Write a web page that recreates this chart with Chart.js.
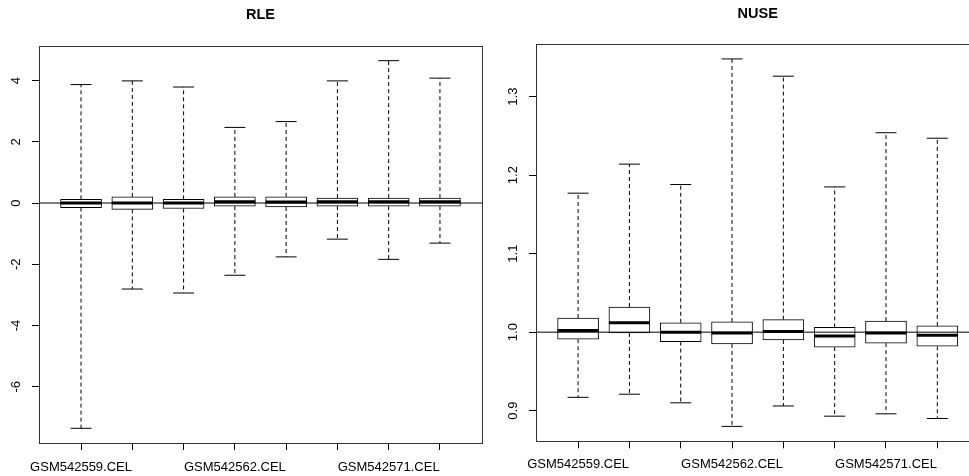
<!DOCTYPE html>
<html>
<head>
<meta charset="utf-8">
<title>RLE / NUSE</title>
<script src="https://cdn.jsdelivr.net/npm/chart.js@4.4.1/dist/chart.umd.min.js"></script>
<style>
  html, body { margin: 0; padding: 0; background: #fff; overflow: hidden; }
  body { width: 969px; height: 476px; position: relative; }
  canvas { position: absolute; top: 0; }
  #rleChart { left: 0; }
  #nuseChart { left: 490px; }
</style>
</head>
<body>
<canvas id="rleChart" width="490" height="476"></canvas>
<canvas id="nuseChart" width="500" height="476"></canvas>
<script>
// sample positions 1..8, only every third name fits under the axis
const samplePos = [1, 2, 3, 4, 5, 6, 7, 8];
const sampleLabels = ['GSM542559.CEL', '', '', 'GSM542562.CEL', '', '', 'GSM542571.CEL', ''];

// RLE box stats
const rleMin = [-7.36, -2.81, -2.94, -2.36, -1.76, -1.18, -1.84, -1.31];
const rleQ1  = [-0.15, -0.21, -0.18, -0.10, -0.13, -0.10, -0.10, -0.10];
const rleMed = [0, 0, 0, 0.04, 0.03, 0.04, 0.04, 0.04];
const rleQ3  = [0.12, 0.20, 0.12, 0.20, 0.20, 0.16, 0.16, 0.16];
const rleMax = [3.87, 3.99, 3.79, 2.47, 2.66, 3.99, 4.65, 4.08];
const rleTicks = [-6, -4, -2, 0, 2, 4];

// NUSE box stats
const nuseMin = [0.917, 0.921, 0.910, 0.880, 0.906, 0.893, 0.896, 0.890];
const nuseQ1  = [0.991, 0.999, 0.988, 0.985, 0.990, 0.981, 0.986, 0.982];
const nuseMed = [1.002, 1.012, 1.000, 0.999, 1.001, 0.995, 0.999, 0.996];
const nuseQ3  = [1.018, 1.032, 1.012, 1.013, 1.016, 1.006, 1.014, 1.008];
const nuseMax = [1.177, 1.214, 1.188, 1.348, 1.326, 1.185, 1.254, 1.247];
const nuseTicks = [0.9, 1.0, 1.1, 1.2, 1.3];

Chart.defaults.font.family = "'Liberation Sans', Arial, sans-serif";
Chart.defaults.color = '#000';

// box around the plot region, like R's box()
const framePlugin = {
    id: 'frame',
    afterDraw(chart) {
        const a = chart.chartArea;
        const ctx = chart.ctx;
        ctx.save();
        ctx.strokeStyle = '#333';
        ctx.lineWidth = 1;
        ctx.strokeRect(Math.round(a.left) + 0.5, Math.round(a.top) + 0.5,
            Math.round(a.right - a.left), Math.round(a.bottom - a.top));
        ctx.restore();
    }
};

function makeBoxChart(id, opt) {
    const whiskers = [];
    const caps = [];
    const boxes = [];
    const meds = [];
    samplePos.forEach((x, i) => {
        whiskers.push({x: x, y: opt.q3[i]}, {x: x, y: opt.max[i]}, {x: x, y: null});
        whiskers.push({x: x, y: opt.q1[i]}, {x: x, y: opt.min[i]}, {x: x, y: null});
        caps.push({x: x, y: opt.max[i]}, {x: x, y: opt.min[i]});
        boxes.push({x: x, y: [opt.q1[i], opt.q3[i]]});
        meds.push({x: x, y: opt.med[i]});
    });

    return new Chart(document.getElementById(id), {
        type: 'bar',
        data: {
            datasets: [
                {
                    type: 'line', order: 5, data: whiskers,
                    borderColor: '#000', borderWidth: 1, borderDash: [4, 3],
                    pointRadius: 0, spanGaps: false
                },
                {
                    type: 'bar', order: 4, data: boxes,
                    backgroundColor: '#fff', borderColor: '#000', borderWidth: 1,
                    borderSkipped: false, barThickness: 41
                },
                {
                    type: 'scatter', order: 3, data: caps,
                    pointStyle: 'line', pointRadius: 10.5, pointBorderWidth: 1,
                    pointBorderColor: '#000', pointBackgroundColor: '#000'
                },
                {
                    type: 'scatter', order: 2, data: meds,
                    pointStyle: 'line', pointRadius: 20.5, pointBorderWidth: 3,
                    pointBorderColor: '#000', pointBackgroundColor: '#000'
                },
                {
                    type: 'line', order: 1,
                    data: [{x: opt.xRange[0], y: opt.ref}, {x: opt.xRange[1], y: opt.ref}],
                    borderColor: '#000', borderWidth: 1, pointRadius: 0
                }
            ]
        },
        options: {
            responsive: false,
            animation: false,
            events: [],
            layout: {
                autoPadding: false, // point radius must not shrink the plot area
                padding: { left: 0, right: opt.padRight, top: 0, bottom: 0 }
            },
            plugins: {
                legend: { display: false },
                tooltip: { enabled: false },
                title: {
                    display: true, text: opt.title, fullSize: false,
                    font: { size: 14.5, weight: 'bold' }, color: '#000',
                    padding: { top: opt.titleTop, bottom: opt.titleBottom }
                }
            },
            scales: {
                x: {
                    type: 'linear',
                    min: opt.xRange[0], max: opt.xRange[1],
                    offset: false,
                    afterBuildTicks: s => { s.ticks = samplePos.map(v => ({value: v})); },
                    afterFit: s => {
                        s.height = opt.xAxisHeight;
                        s.paddingLeft = 0;
                        s.paddingRight = 0;
                    },
                    grid: { drawOnChartArea: false, offset: false, tickLength: 7, color: '#000' },
                    border: { display: true, color: '#333' },
                    ticks: {
                        autoSkip: false, maxRotation: 0, minRotation: 0,
                        padding: opt.xPad, font: { size: 13 }, color: '#000',
                        callback: (v, i) => sampleLabels[i]
                    }
                },
                y: {
                    type: 'linear',
                    min: opt.yRange[0], max: opt.yRange[1],
                    afterBuildTicks: s => { s.ticks = opt.ticks.map(v => ({value: v})); },
                    afterFit: s => {
                        s.width = opt.yAxisWidth;
                        s.paddingTop = 0;
                        s.paddingBottom = 0;
                    },
                    grid: { drawOnChartArea: false, tickLength: 7, color: '#000' },
                    border: { display: true, color: '#333' },
                    ticks: {
                        minRotation: 90, maxRotation: 90, crossAlign: 'center',
                        padding: opt.yPad, font: { size: 13 }, color: '#000',
                        callback: v => opt.fmt(v)
                    }
                }
            }
        },
        plugins: [framePlugin]
    });
}

makeBoxChart('rleChart', {
    title: 'RLE',
    min: rleMin, q1: rleQ1, med: rleMed, q3: rleQ3, max: rleMax,
    ticks: rleTicks, fmt: v => String(v),
    ref: 0,
    xRange: [0.18, 8.82], yRange: [-7.84, 5.13],
    padRight: 8, yAxisWidth: 39, xAxisHeight: 33,
    titleTop: 6.3, titleBottom: 22.3,
    xPad: 10, yPad: 9.5
});

makeBoxChart('nuseChart', {
    title: 'NUSE',
    min: nuseMin, q1: nuseQ1, med: nuseMed, q3: nuseQ3, max: nuseMax,
    ticks: nuseTicks, fmt: v => v.toFixed(1),
    ref: 1,
    xRange: [0.18, 8.82], yRange: [0.861, 1.367],
    padRight: 10.6, yAxisWidth: 46, xAxisHeight: 34.7,
    titleTop: 5, titleBottom: 21.6,
    xPad: 8.5, yPad: 7
});
</script>
</body>
</html>
